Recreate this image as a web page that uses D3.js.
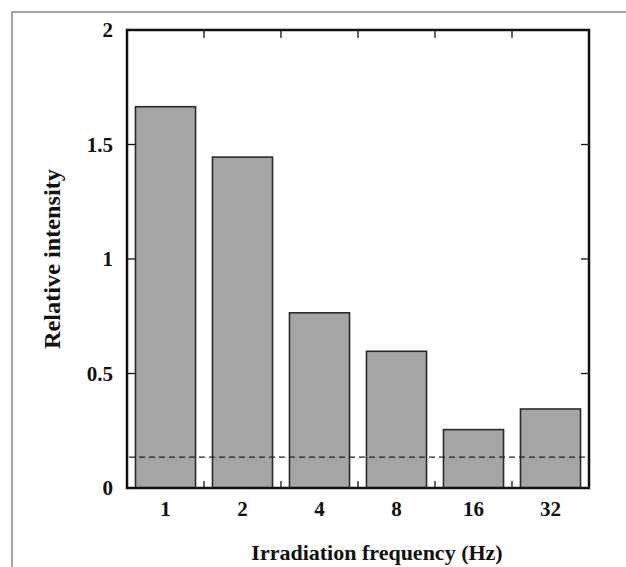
<!DOCTYPE html>
<html lang="en">
<head>
<meta charset="utf-8">
<title>relative intensity bars</title>
<script src="https://cdn.jsdelivr.net/npm/d3@7"></script>
<style>
  body { margin: 0; background: #fff; }
  text { font-family: "Liberation Serif", "Times New Roman", serif; font-weight: bold; fill: #111; }
</style>
</head>
<body>
<script>
// data
var freqs = ["1", "2", "4", "8", "16", "32"];
var intensity = [1.665, 1.445, 0.765, 0.597, 0.255, 0.345];
var baseline = 0.135;
var yTicks = [0, 0.5, 1, 1.5, 2];

var w = 626, h = 567;
// plot box (note: "top" is a reserved window global, so use pTop etc.)
var pLeft = 127, pRight = 589, pTop = 30, pBottom = 488;

var svg = d3.select("body").append("svg")
    .attr("width", w)
    .attr("height", h);

// outer frame (only top and left edges are visible)
svg.append("path")
    .attr("d", "M12,567V12H626")
    .attr("fill", "none")
    .attr("stroke", "#8a8a8a")
    .attr("stroke-width", 1.5);

var xScale = d3.scaleBand()
    .domain(freqs)
    .range([pLeft, pRight])
    .paddingInner(0.22)
    .paddingOuter(0.11);

var yScale = d3.scaleLinear()
    .domain([0, 2])
    .range([pBottom, pTop]);

// bars
svg.selectAll("rect.bar")
    .data(intensity)
    .enter()
    .append("rect")
    .attr("class", "bar")
    .attr("x", function(d, i) { return xScale(freqs[i]); })
    .attr("y", function(d) { return yScale(d); })
    .attr("width", xScale.bandwidth())
    .attr("height", function(d) { return yScale(0) - yScale(d); })
    .attr("fill", "#a5a5a5")
    .attr("stroke", "#2a2a2a")
    .attr("stroke-width", 1.6);

// dashed reference line
svg.append("line")
    .attr("x1", pLeft + 2)
    .attr("x2", pRight - 4)
    .attr("y1", yScale(baseline))
    .attr("y2", yScale(baseline))
    .attr("stroke", "#222")
    .attr("stroke-width", 1.2)
    .attr("stroke-dasharray", "6,4");

// y ticks (inward on both sides) and labels
yTicks.forEach(function(t) {
    if (t > 0 && t < 2) {
        svg.append("line")
            .attr("x1", pLeft).attr("x2", pLeft + 8)
            .attr("y1", yScale(t)).attr("y2", yScale(t))
            .attr("stroke", "#111").attr("stroke-width", 1.3);
        svg.append("line")
            .attr("x1", pRight - 8).attr("x2", pRight)
            .attr("y1", yScale(t)).attr("y2", yScale(t))
            .attr("stroke", "#111").attr("stroke-width", 1.3);
    }
    svg.append("text")
        .attr("x", 113)
        .attr("y", yScale(t))
        .attr("dy", "0.35em")
        .attr("text-anchor", "end")
        .attr("font-size", 21)
        .text(t);
});

// x ticks between categories, top and bottom
freqs.slice(1).forEach(function(f) {
    var xb = xScale(f) - xScale.step() * xScale.paddingInner() / 2;
    svg.append("line")
        .attr("x1", xb).attr("x2", xb)
        .attr("y1", pBottom).attr("y2", pBottom - 7)
        .attr("stroke", "#111").attr("stroke-width", 1.3);
    svg.append("line")
        .attr("x1", xb).attr("x2", xb)
        .attr("y1", pTop).attr("y2", pTop + 8)
        .attr("stroke", "#111").attr("stroke-width", 1.3);
});

// x labels
svg.selectAll("text.xlab")
    .data(freqs)
    .enter()
    .append("text")
    .attr("class", "xlab")
    .attr("x", function(d) { return xScale(d) + xScale.bandwidth() / 2; })
    .attr("y", pBottom + 28)
    .attr("text-anchor", "middle")
    .attr("font-size", 21)
    .text(function(d) { return d; });

// plot frame
svg.append("rect")
    .attr("x", pLeft)
    .attr("y", pTop)
    .attr("width", pRight - pLeft)
    .attr("height", pBottom - pTop)
    .attr("fill", "none")
    .attr("stroke", "#111")
    .attr("stroke-width", 2.5);

// axis titles
svg.append("text")
    .attr("x", 377)
    .attr("y", 560)
    .attr("text-anchor", "middle")
    .attr("font-size", 22)
    .text("Irradiation frequency (Hz)");

svg.append("text")
    .attr("transform", "translate(60,259) rotate(-90)")
    .attr("text-anchor", "middle")
    .attr("font-size", 23)
    .attr("textLength", 180)
    .attr("lengthAdjust", "spacingAndGlyphs")
    .text("Relative intensity");
</script>
</body>
</html>
